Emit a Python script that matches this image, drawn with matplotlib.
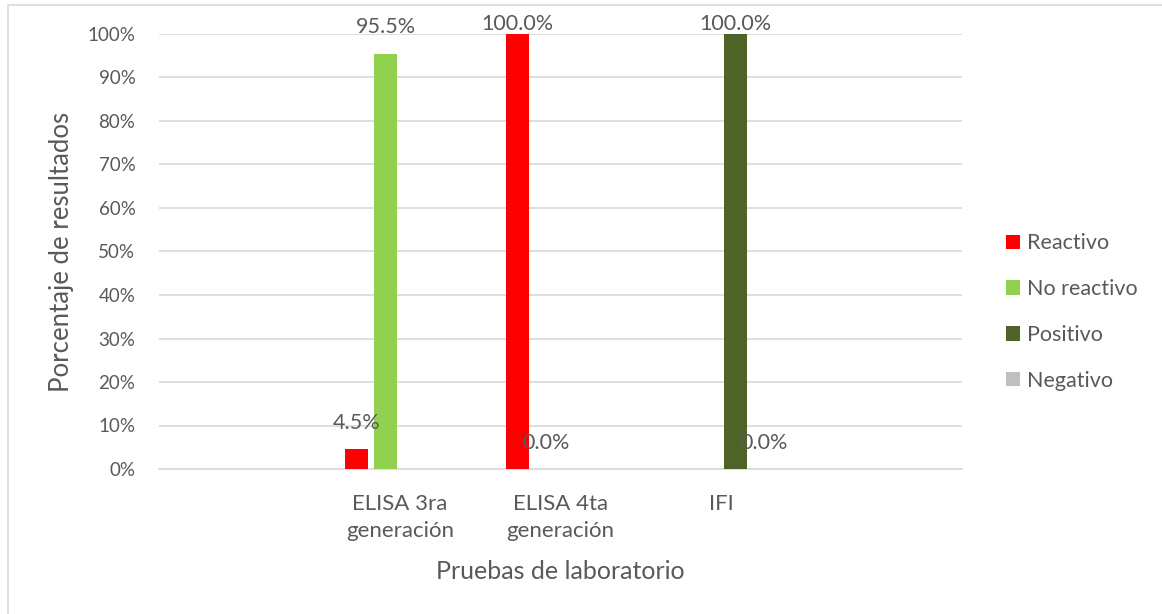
import numpy as np
import matplotlib
matplotlib.use("Agg")
import matplotlib.pyplot as plt
from matplotlib.patches import Rectangle
from matplotlib.ticker import FuncFormatter

plt.rcParams['font.family'] = ['Lato', 'DejaVu Sans']
txt = '#595959'

# categories (first and last slots are empty in the workbook)
categorias = ['', 'ELISA 3ra\ngeneración', 'ELISA 4ta\ngeneración', 'IFI', '']
series = ['Reactivo', 'No reactivo', 'Positivo', 'Negativo']
reactivo = [np.nan, 4.5, 100.0, np.nan, np.nan]
no_reactivo = [np.nan, 95.5, 0.0, np.nan, np.nan]
positivo = [np.nan, np.nan, np.nan, 100.0, np.nan]
negativo = [np.nan, np.nan, np.nan, 0.0, np.nan]
colores = ['#FF0000', '#92D050', '#4F6228', '#BFBFBF']

fig = plt.figure(figsize=(11.62, 6.14), dpi=100)
ax = fig.add_axes([159/1162, 145/614, 803/1162, 435/614])

x = np.arange(len(categorias))
paso = 0.18
ancho = 0.143
for i, (nombre, vals, col) in enumerate(zip(series, [reactivo, no_reactivo, positivo, negativo], colores)):
    xs = x + (i - 1.5) * paso
    ax.bar(xs, vals, width=ancho, color=col, label=nombre, zorder=3)
    for xi, v in zip(xs, vals):
        if np.isnan(v):
            continue
        ax.text(xi, min(v + 6.0, 102.3), f'{v:.1f}%', ha='center', va='center',
                fontsize=15.5, color=txt, clip_on=False, zorder=4)

ax.set_xlim(-0.5, len(categorias) - 0.5)
ax.set_ylim(0, 100)
ax.set_yticks(np.arange(0, 101, 10))
ax.yaxis.set_major_formatter(FuncFormatter(lambda v, p: f'{v:.0f}%'))
ax.set_xticks(x)
ax.set_xticklabels(categorias)
ax.grid(axis='y', color='#d9d9d9', linewidth=1.2, zorder=0)
for s in ['top', 'right', 'left']:
    ax.spines[s].set_visible(False)
ax.spines['bottom'].set_color('#d9d9d9')
ax.spines['bottom'].set_linewidth(1.2)
ax.tick_params(length=0, colors=txt)
ax.tick_params(axis='y', pad=17, labelsize=13.5)
ax.tick_params(axis='x', pad=18, labelsize=16)
for lab in ax.get_xticklabels():
    lab.set_linespacing(1.42)

ax.set_xlabel('Pruebas de laboratorio', fontsize=18, color=txt, labelpad=14)
ax.set_ylabel('Porcentaje de resultados', fontsize=18.5, color=txt, labelpad=9.5)

leg = ax.legend(loc='center left', bbox_to_anchor=(987/1162, 302/614), bbox_transform=fig.transFigure,
                frameon=False, fontsize=15.5, handlelength=0.65, handleheight=0.65,
                handletextpad=0.3, labelspacing=1.2)
for t in leg.get_texts():
    t.set_color(txt)

# outer chart border
fig.patches.append(Rectangle((8/1162, -0.05), 1.2, 0.05 + 609/614, transform=fig.transFigure,
                             fill=False, edgecolor='#d9d9d9', linewidth=1.2))

fig.savefig('out.png', dpi=100)
